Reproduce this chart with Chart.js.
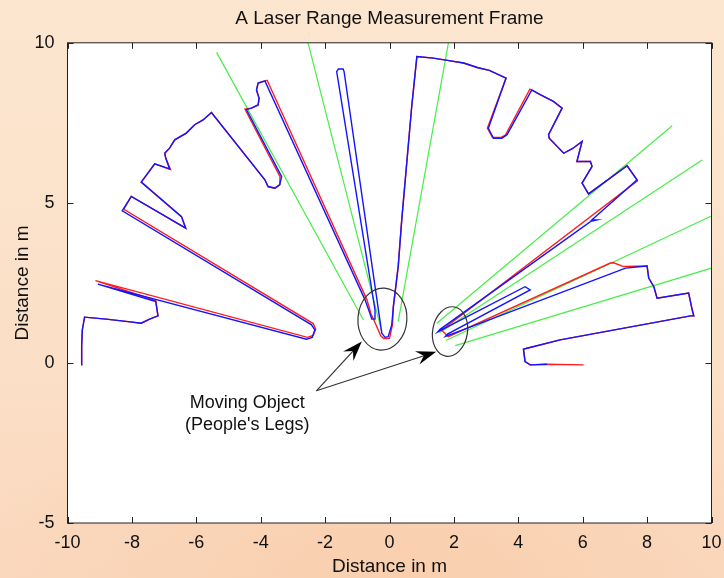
<!DOCTYPE html>
<html>
<head>
<meta charset="utf-8">
<script src="https://cdn.jsdelivr.net/npm/chart.js@4.4.0/dist/chart.umd.min.js"></script>
<style>
html, body { margin: 0; padding: 0; }
body {
  width: 724px; height: 578px; overflow: hidden;
  background: radial-gradient(ellipse 60% 40% at 55% 100%, #f9cfae 0%, rgba(249,207,174,0) 100%),
              linear-gradient(180deg, #fce6d0 0%, #fbe0c8 55%, #fad8be 100%);
}
#wrap { width: 724px; height: 578px; }
</style>
</head>
<body>
<div id="wrap"><canvas id="scan" width="724" height="578"></canvas></div>
<script>
// laser scan points, metres (x, y)
var blueScan = [
  [-9.57,-0.06],[-9.56,0.55],[-9.54,1.03],[-9.47,1.43],[-8.80,1.37],[-8.12,1.29],[-7.71,1.24],[-7.45,1.37],[-7.19,1.47],[-7.26,1.92],
  [-9.06,2.46],[-2.58,0.74],[-2.40,0.80],[-2.32,1.03],[-2.42,1.19],
  [-8.30,4.75],[-8.02,5.20],[-6.33,4.21],[-6.46,4.57],[-7.71,5.65],[-7.29,6.22],[-6.83,6.06],[-6.95,6.40],[-6.98,6.55],[-6.83,6.71],
  [-6.67,6.97],[-6.31,7.18],[-6.05,7.44],[-5.79,7.59],[-5.53,7.82],
  [-3.87,5.72],[-3.77,5.51],[-3.56,5.46],[-3.41,5.56],[-3.35,5.82],
  [-4.44,7.91],[-4.29,7.96],[-4.08,8.06],[-4.05,8.27],[-4.13,8.53],[-4.08,8.74],[-3.87,8.81],
  [-0.76,1.97],[-0.61,1.55],[-0.55,1.37],[-0.45,1.37],[-0.45,1.66],
  [-1.64,9.10],[-1.59,9.18],[-1.44,9.18],[-1.41,9.10],
  [-0.24,0.93],[-0.14,0.80],[-0.04,0.82],[0.07,1.19],[0.12,1.76],[0.27,3.01],[0.38,4.47],[0.69,8.01],[0.85,9.57],
  [1.36,9.52],[1.80,9.45],[2.30,9.37],[2.75,9.22],[3.10,9.14],[3.62,8.90],
  [3.07,7.33],[3.23,7.02],[3.49,7.02],[3.65,7.13],
  [4.42,8.53],[4.68,8.38],[5.09,8.17],[5.36,7.96],
  [4.94,7.13],[4.96,7.02],[5.41,6.55],[5.69,6.70],[5.98,6.92],[5.82,6.29],[6.24,6.29],[6.29,6.14],[5.98,5.62],[6.18,5.28],
  [7.38,6.16],[7.69,5.72],
  [6.29,4.47],[6.45,4.47],[6.25,4.42],
  [1.57,1.05],[1.50,0.97],[4.21,2.38],[4.37,2.28],[1.80,0.90],[1.74,0.83],
  [7.33,2.96],[8.00,3.03],[8.05,2.65],[8.21,2.38],[8.31,2.02],[9.29,2.18],[9.40,1.66],[9.45,1.47],[9.35,1.47],
  [5.30,0.72],[4.27,0.46],[4.16,0.43],[4.21,0.04],[4.37,-0.06],[4.89,-0.04]
]

var redScan = [
  [-9.57,-0.06],[-9.56,0.55],[-9.54,1.03],[-9.47,1.43],[-8.80,1.37],[-8.12,1.29],[-7.71,1.24],[-7.45,1.37],[-7.19,1.47],[-7.26,1.95],
  [-9.13,2.57],[-2.55,0.80],[-2.37,0.86],[-2.29,1.05],[-2.37,1.23],
  [-8.25,4.80],[-8.02,5.20],[-6.33,4.21],[-6.46,4.57],[-7.71,5.65],[-7.29,6.22],[-6.80,6.04],[-6.95,6.40],[-6.98,6.55],[-6.83,6.71],
  [-6.67,6.97],[-6.31,7.18],[-6.05,7.44],[-5.79,7.59],[-5.53,7.82],
  [-3.87,5.72],[-3.77,5.51],[-3.56,5.46],[-3.41,5.56],[-3.40,5.82],
  [-4.49,7.93],[-4.29,7.96],[-4.08,8.06],[-4.05,8.27],[-4.13,8.53],[-4.08,8.74],[-3.80,8.83],
  [-0.70,1.97],[-0.57,1.52],[-0.52,1.42],
  [-0.27,0.85],[-0.18,0.76],[0.00,0.77],[0.09,1.19],[0.12,1.76],[0.27,3.01],[0.38,4.47],[0.69,8.01],[0.85,9.57],
  [1.36,9.52],[1.80,9.45],[2.30,9.37],[2.75,9.22],[3.10,9.14],[3.62,8.90],
  [3.04,7.33],[3.20,7.04],[3.45,7.04],[3.60,7.12],
  [4.36,8.55],[4.68,8.38],[5.09,8.17],[5.36,7.96],
  [4.94,7.13],[4.96,7.02],[5.41,6.55],[5.69,6.70],[5.98,6.92],[5.82,6.29],[6.24,6.29],[6.29,6.14],[5.98,5.62],[6.18,5.28],
  [7.38,6.16],[7.70,5.69],
  [1.62,1.02],[1.83,0.82],[6.86,3.12],[6.96,3.13],[7.27,3.01],
  [8.00,3.03],[8.05,2.65],[8.21,2.38],[8.31,2.02],[9.29,2.18],[9.40,1.66],[9.45,1.47],[9.35,1.47],
  [5.30,0.72],[4.27,0.46],[4.16,0.43],[4.21,0.04],[4.37,-0.06],[4.89,-0.04],[6.03,-0.06]
]

// rays towards the detected legs: [start, end]
var greenRays = [
  [[-5.37,9.70],[-0.81,1.34]],
  [[-2.53,10.00],[-0.24,0.98]],
  [[1.83,10.00],[0.27,1.29]],
  [[1.47,1.24],[8.78,7.41]],
  [[1.55,0.94],[9.71,6.34]],
  [[1.75,0.70],[10.00,4.59]],
  [[2.04,0.54],[10.00,2.96]]
]

var xTickValues = [-10, -8, -6, -4, -2, 0, 2, 4, 6, 8, 10]
var yTickValues = [-5, 0, 5, 10]

// annotation: ellipses round the legs [cx, cy, rx, ry, tilt deg], arrows, note
var legEllipses = [[-0.22, 1.37, 0.76, 0.97, 4], [1.88, 0.98, 0.54, 0.78, 10]]
var arrowTail = [-2.27, -0.87]
var arrowTips = [[-0.86, 0.67], [1.45, 0.35]]
var noteAnchor = [-4.42, -1.24]
var noteLines = ['Moving Object', "(People's Legs)"]

var FONT = '"Liberation Sans", Arial, Helvetica, sans-serif'

function toPoints(list) {
  return list.map(function(p) { return {x: p[0], y: p[1]} })
}

var datasets = [
  {data: toPoints(blueScan), borderColor: 'rgb(20,20,255)', borderWidth: 1.4, order: 0},
  {data: toPoints(redScan), borderColor: 'rgb(255,30,30)', borderWidth: 1.4, order: 1}
]
greenRays.forEach(function(r) {
  datasets.push({data: toPoints(r), borderColor: 'rgb(70,238,70)', borderWidth: 1.2, order: 2})
})
datasets.forEach(function(d) {
  d.showLine = true
  d.pointRadius = 0
  d.fill = false
  d.tension = 0
})

var annotate = {
  id: 'annotate',
  beforeDraw: function(chart) {
    var a = chart.chartArea, c = chart.ctx
    c.save()
    c.fillStyle = '#ffffff'
    c.fillRect(a.left, a.top, a.right - a.left, a.bottom - a.top)
    c.restore()
  },
  afterDatasetsDraw: function(chart) {
    var c = chart.ctx, xs = chart.scales.x, ys = chart.scales.y
    c.save()
    c.strokeStyle = '#333'
    c.lineWidth = 1.2
    legEllipses.forEach(function(e) {
      var cx = xs.getPixelForValue(e[0]), cy = ys.getPixelForValue(e[1])
      var rx = xs.getPixelForValue(e[0] + e[2]) - cx
      var ry = cy - ys.getPixelForValue(e[1] + e[3])
      c.beginPath()
      c.ellipse(cx, cy, rx, ry, e[4] * Math.PI / 180, 0, Math.PI * 2)
      c.stroke()
    })

    var tx = xs.getPixelForValue(arrowTail[0]), ty = ys.getPixelForValue(arrowTail[1])
    arrowTips.forEach(function(t) {
      var hx = xs.getPixelForValue(t[0]), hy = ys.getPixelForValue(t[1])
      var ang = Math.atan2(hy - ty, hx - tx)
      c.strokeStyle = '#333'
      c.lineWidth = 1.2
      c.beginPath()
      c.moveTo(tx, ty)
      c.lineTo(hx - Math.cos(ang) * 12, hy - Math.sin(ang) * 12)
      c.stroke()
      c.save()
      c.translate(hx, hy)
      c.rotate(ang)
      c.fillStyle = '#000'
      c.beginPath()
      c.moveTo(0, 0)
      c.lineTo(-20, -7)
      c.lineTo(-13, 0)
      c.lineTo(-20, 7)
      c.closePath()
      c.fill()
      c.restore()
    })

    var nx = xs.getPixelForValue(noteAnchor[0]), ny = ys.getPixelForValue(noteAnchor[1])
    c.fillStyle = '#111'
    c.font = '18px ' + FONT
    c.textAlign = 'center'
    c.textBaseline = 'middle'
    noteLines.forEach(function(s, i) {
      c.fillText(s, nx, ny + i * 22.8)
    })
    c.restore()
  },
  afterDraw: function(chart) {
    var a = chart.chartArea, c = chart.ctx, xs = chart.scales.x, ys = chart.scales.y
    var tl = 6
    c.save()
    c.strokeStyle = '#222'
    c.lineWidth = 1
    c.beginPath()
    xTickValues.forEach(function(v) {
      var px = Math.round(xs.getPixelForValue(v)) + 0.5
      c.moveTo(px, a.bottom); c.lineTo(px, a.bottom - tl)
      c.moveTo(px, a.top); c.lineTo(px, a.top + tl)
    })
    yTickValues.forEach(function(v) {
      var py = Math.round(ys.getPixelForValue(v)) + 0.5
      c.moveTo(a.left, py); c.lineTo(a.left + tl, py)
      c.moveTo(a.right, py); c.lineTo(a.right - tl, py)
    })
    c.stroke()
    c.strokeRect(a.left, a.top, a.right - a.left, a.bottom - a.top)
    c.restore()
  }
}

var ctx = document.getElementById('scan').getContext('2d')

var chart = new Chart(ctx, {
  type: 'scatter',
  data: {datasets: datasets},
  plugins: [annotate],
  options: {
    responsive: false,
    animation: false,
    events: [],
    layout: {padding: {left: 0, right: 12.5, top: 0, bottom: 0}},
    plugins: {
      legend: {display: false},
      tooltip: {enabled: false},
      title: {
        display: true,
        fullSize: false,
        text: 'A Laser Range Measurement Frame',
        color: '#111',
        font: {family: FONT, size: 19, weight: 'normal'},
        padding: {top: 7, bottom: 13}
      }
    },
    scales: {
      x: {
        type: 'linear',
        min: -10,
        max: 10,
        afterBuildTicks: function(s) { s.ticks = xTickValues.map(function(v) { return {value: v} }) },
        afterFit: function(s) { s.height = 55 },
        ticks: {color: '#111', font: {family: FONT, size: 18}, padding: 1, maxRotation: 0, autoSkip: false},
        grid: {display: false},
        border: {display: false},
        title: {display: true, text: 'Distance in m', color: '#111', font: {family: FONT, size: 19}, padding: {top: 0, bottom: 0}}
      },
      y: {
        type: 'linear',
        min: -5,
        max: 10,
        afterBuildTicks: function(s) { s.ticks = yTickValues.map(function(v) { return {value: v} }) },
        afterFit: function(s) { s.width = 67.5 },
        ticks: {color: '#111', font: {family: FONT, size: 18}, padding: 5, autoSkip: false},
        grid: {display: false},
        border: {display: false},
        title: {display: true, text: 'Distance in m', color: '#111', font: {family: FONT, size: 19}, padding: {top: 11, bottom: 0}}
      }
    }
  }
})
</script>
</body>
</html>
